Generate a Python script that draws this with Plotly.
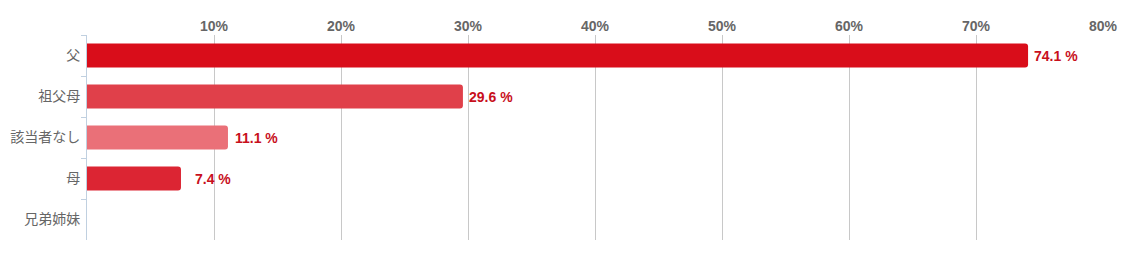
import plotly.graph_objects as go

categories = ["父", "祖父母", "該当者なし", "母", "兄弟姉妹"]
values = [74.1, 29.6, 11.1, 7.4, 0]
bar_colors = ["#d90d1a", "#e0404a", "#ea7078", "#dc2533", "#dc2533"]
tick_vals = [10, 20, 30, 40, 50, 60, 70, 80]
tick_text = ["10%", "20%", "30%", "40%", "50%", "60%", "70%", "80%"]

fig = go.Figure()
fig.add_trace(go.Bar(
    y=categories, x=values, orientation="h",
    marker=dict(color=bar_colors, line=dict(width=0)),
    width=0.58, hoverinfo="skip",
))

for c, v in zip(categories, values):
    if v > 0:
        fig.add_annotation(
            x=v, y=c, xref="x", yref="y", text=f"{v:.1f} %",
            showarrow=False, xanchor="right", xshift=52,
            font=dict(family="Liberation Sans, Arial", size=14, color="#c8101c", weight="bold"),
        )

fig.update_layout(
    width=1124, height=255,
    margin=dict(l=87, r=21, t=35, b=15, autoexpand=False),
    paper_bgcolor="white", plot_bgcolor="white",
    showlegend=False, barcornerradius=3,
    xaxis=dict(
        range=[0, 80], side="top", tickvals=tick_vals, ticktext=tick_text,
        showgrid=True, gridcolor="#c8c8c8", gridwidth=1,
        zeroline=False, showline=False, ticks="",
        tickfont=dict(family="Liberation Sans, Arial", size=14, color="#666666", weight="bold"),
        automargin=False, fixedrange=True,
    ),
    yaxis=dict(
        type="category", categoryorder="array", categoryarray=categories,
        autorange="reversed", tickson="boundaries",
        showline=True, linecolor="#c0d0e0", linewidth=1,
        ticks="outside", ticklen=5, tickcolor="#c0d0e0",
        showgrid=False, zeroline=False,
        tickfont=dict(family="Noto Sans CJK JP, sans-serif", size=14, color="#666666"),
        ticklabelstandoff=3,
        automargin=False, fixedrange=True,
    ),
)

fig.write_html("out.html")
